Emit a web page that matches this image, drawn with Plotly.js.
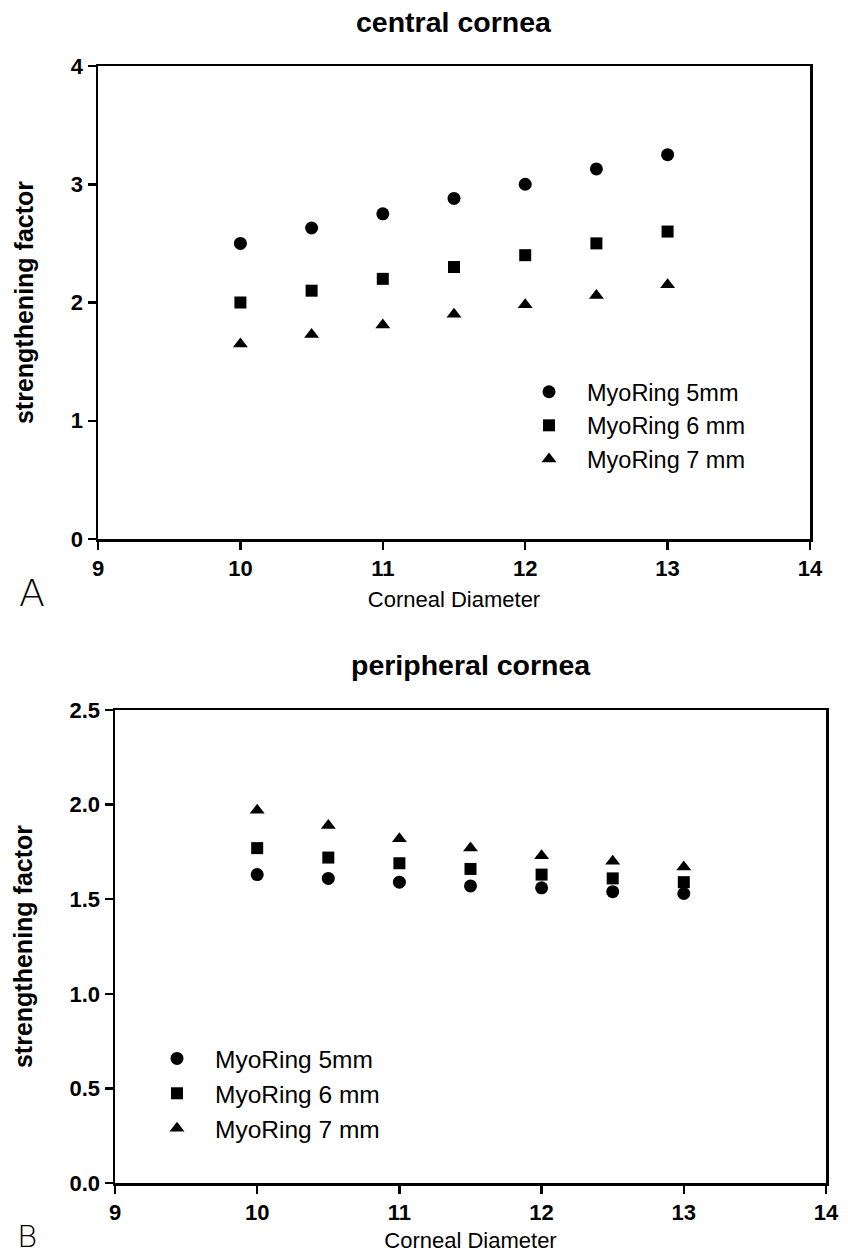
<!DOCTYPE html>
<html>
<head>
<meta charset="utf-8">
<script src="https://cdn.plot.ly/plotly-3.0.1.min.js"></script>
<style>html,body{margin:0;padding:0;background:#fff;}#chart{width:848px;height:1253px;}</style>
</head>
<body>
<div id="chart"></div>
<script>
// Data
const diameters = [10, 10.5, 11, 11.5, 12, 12.5, 13];
const seriesNames = ["MyoRing 5mm", "MyoRing 6 mm", "MyoRing 7 mm"];
const central5 = [2.50, 2.63, 2.75, 2.88, 3.00, 3.13, 3.25];
const central6 = [2.00, 2.10, 2.20, 2.30, 2.40, 2.50, 2.60];
const central7 = [1.65, 1.73, 1.81, 1.90, 1.98, 2.06, 2.15];
const peripheral5 = [1.63, 1.61, 1.59, 1.57, 1.56, 1.54, 1.53];
const peripheral6 = [1.77, 1.72, 1.69, 1.66, 1.63, 1.61, 1.59];
const peripheral7 = [1.97, 1.89, 1.82, 1.77, 1.73, 1.70, 1.67];
const xTicks = [9, 10, 11, 12, 13, 14];
const centralYTicks = [0, 1, 2, 3, 4];
const peripheralYTicks = [0, 0.5, 1.0, 1.5, 2.0, 2.5];

const FONT = "Arial, 'Liberation Sans', sans-serif";
const symbols = ["circle", "square", "triangle-up"];
const sizes = [13, 12, 13];

function mk(y, i, xa, ya, leg) {
  return {
    type: "scatter", mode: "markers", x: diameters, y: y,
    name: seriesNames[i], xaxis: xa, yaxis: ya, legend: leg,
    marker: {symbol: symbols[i], size: sizes[i], color: "#000"},
    hoverinfo: "x+y+name"
  };
}

const traces = [
  mk(central5, 0, "x", "y", "legend"),
  mk(central6, 1, "x", "y", "legend"),
  mk(central7, 2, "x", "y", "legend"),
  mk(peripheral5, 0, "x2", "y2", "legend2"),
  mk(peripheral6, 1, "x2", "y2", "legend2"),
  mk(peripheral7, 2, "x2", "y2", "legend2")
];

const H = 1253, W = 848;
function px(x) { return x / W; }
function py(y) { return (H - y) / H; }

const axBase = {
  showgrid: false, zeroline: false, showline: true, linecolor: "#000", linewidth: 2.5,
  mirror: true, ticks: "outside", ticklen: 8, tickwidth: 2.5, tickcolor: "#000",
  tickfont: {family: FONT, size: 22, color: "#000", weight: "bold"}
};

const layout = {
  width: W, height: H, autosize: false,
  margin: {l: 0, r: 0, t: 0, b: 0},
  paper_bgcolor: "#fff", plot_bgcolor: "#fff",
  showlegend: true,
  xaxis: Object.assign({}, axBase, {
    domain: [px(98), px(810)], anchor: "y", range: [9, 14],
    tickvals: xTicks, ticklabelstandoff: 0,
    title: {text: "Corneal Diameter", font: {family: FONT, size: 22, color: "#000"}, standoff: 12}
  }),
  yaxis: Object.assign({}, axBase, {
    domain: [py(539), py(66)], anchor: "x", range: [0, 4],
    tickvals: centralYTicks,
    title: {text: "strengthening factor", font: {family: FONT, size: 25, color: "#000", weight: "bold"}, standoff: 30}
  }),
  xaxis2: Object.assign({}, axBase, {
    domain: [px(115), px(826)], anchor: "y2", range: [9, 14],
    tickvals: xTicks, ticklabelstandoff: 0,
    title: {text: "Corneal Diameter", font: {family: FONT, size: 22, color: "#000"}, standoff: 16}
  }),
  yaxis2: Object.assign({}, axBase, {
    domain: [py(1183), py(710)], anchor: "x2", range: [0, 2.5],
    tickvals: peripheralYTicks, tickformat: ".1f",
    title: {text: "strengthening factor", font: {family: FONT, size: 25, color: "#000", weight: "bold"}, standoff: 30}
  }),
  legend: {
    x: px(511), y: py(370), xanchor: "left", yanchor: "top",
    xref: "paper", yref: "paper", bgcolor: "rgba(0,0,0,0)", borderwidth: 0,
    itemwidth: 66, font: {family: FONT, size: 23.5, color: "#000"}
  },
  legend2: {
    x: px(139), y: py(1036), xanchor: "left", yanchor: "top",
    xref: "paper", yref: "paper", bgcolor: "rgba(0,0,0,0)", borderwidth: 0,
    itemwidth: 66, font: {family: FONT, size: 24.5, color: "#000"}
  },
  annotations: [
    {text: "central cornea", xref: "x domain", yref: "paper", x: 0.5, y: py(22),
     xanchor: "center", yanchor: "middle", showarrow: false,
     font: {family: FONT, size: 28.5, color: "#000", weight: "bold"}},
    {text: "peripheral cornea", xref: "x2 domain", yref: "paper", x: 0.5, y: py(665),
     xanchor: "center", yanchor: "middle", showarrow: false,
     font: {family: FONT, size: 28.5, color: "#000", weight: "bold"}},
    {text: "A", xref: "paper", yref: "paper", x: px(32), y: py(593),
     xanchor: "center", yanchor: "middle", showarrow: false,
     font: {family: "'DejaVu Sans', sans-serif", size: 38, color: "#000", weight: 300}},
    {text: "B", xref: "paper", yref: "paper", x: px(27), y: py(1236),
     xanchor: "center", yanchor: "middle", showarrow: false,
     font: {family: "'DejaVu Sans', sans-serif", size: 31, color: "#000", weight: 300}}
  ]
};

Plotly.newPlot("chart", traces, layout, {displayModeBar: false, staticPlot: true});
</script>
</body>
</html>
